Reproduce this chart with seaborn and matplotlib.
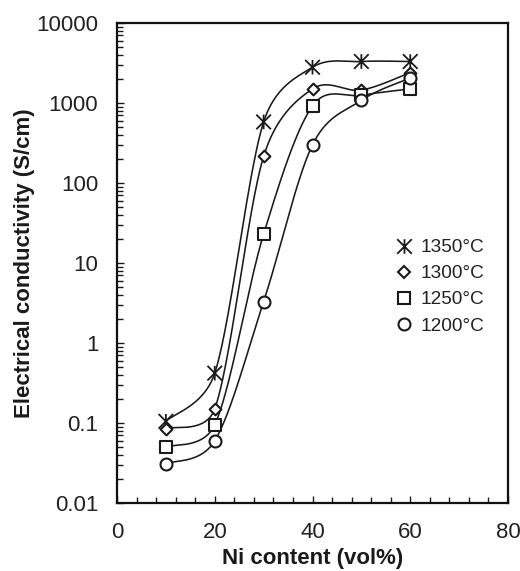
import numpy as np
import pandas as pd
import matplotlib
matplotlib.use("Agg")
import matplotlib.pyplot as plt
import seaborn as sns
from matplotlib.lines import Line2D
from matplotlib.path import Path
from matplotlib.ticker import FixedLocator, FixedFormatter, MultipleLocator, LogLocator, NullFormatter

# ---- data ----
ni_content = [10, 20, 30, 40, 50, 60]
sigma_1350 = [0.105, 0.42, 580, 2800, 3300, 3300]
sigma_1300 = [0.085, 0.15, 215, 1500, 1450, 2400]
sigma_1250 = [0.05, 0.095, 23, 920, 1250, 1500]
sigma_1200 = [0.031, 0.06, 3.3, 300, 1080, 2050]
series_labels = ["1350°C", "1300°C", "1250°C", "1200°C"]
y_tick_values = [0.01, 0.1, 1, 10, 100, 1000, 10000]
y_tick_labels = ["0.01", "0.1", "1", "10", "100", "1000", "10000"]
x_tick_values = [0, 20, 40, 60, 80]

series = [sigma_1350, sigma_1300, sigma_1250, sigma_1200]

# Excel-like star marker: vertical bar plus an X
star = Path([(0, -1), (0, 1), (-1, -1), (1, 1), (-1, 1), (1, -1)],
            [Path.MOVETO, Path.LINETO, Path.MOVETO, Path.LINETO, Path.MOVETO, Path.LINETO])
markers = [star, "D", "s", "o"]
msizes = [10.5, 6.0, 8.8, 8.6]
INK = "#1a1a1a"

sns.set_style("white")
plt.rcParams["font.family"] = ["Liberation Sans", "DejaVu Sans"]

fig = plt.figure(figsize=(5.2, 5.71), dpi=100)
ax = fig.add_axes([117 / 520, 1 - 503 / 571, (508 - 117) / 520, (503 - 23) / 571])

XSCALE = 4.89   # px per x unit
YSCALE = 80.0   # px per decade


def smooth_curve(xs, ys, n=50):
    """Excel-like smoothed line (Bezier with limited control arms) in display space."""
    P = np.column_stack([np.asarray(xs, float) * XSCALE, np.log10(ys) * YSCALE])
    out = []
    m = len(P)
    for i in range(m - 1):
        p0 = P[max(i - 1, 0)]
        p1 = P[i]
        p2 = P[i + 1]
        p3 = P[min(i + 2, m - 1)]
        d12 = np.linalg.norm(p2 - p1)
        d02 = np.linalg.norm(p2 - p0)
        d13 = np.linalg.norm(p3 - p1)
        f1 = 1 / 6 if d02 / 6 < d12 / 2 else d12 / (2 * d02)
        f2 = 1 / 6 if d13 / 6 < d12 / 2 else d12 / (2 * d13)
        c1 = p1 + (p2 - p0) * f1
        c2 = p2 - (p3 - p1) * f2
        t = np.linspace(0, 1, n)[:, None]
        seg = ((1 - t) ** 3) * p1 + 3 * ((1 - t) ** 2) * t * c1 + 3 * (1 - t) * t ** 2 * c2 + t ** 3 * p2
        out.append(seg if i == 0 else seg[1:])
    C = np.vstack(out)
    return C[:, 0] / XSCALE, 10 ** (C[:, 1] / YSCALE)


for vals in series:
    cx, cy = smooth_curve(ni_content, vals)
    df_line = pd.DataFrame({"x": cx, "y": cy})
    sns.lineplot(data=df_line, x="x", y="y", sort=False, estimator=None,
                 color=INK, linewidth=1.15, ax=ax, legend=False)

for vals, mk, ms in zip(series, markers, msizes):
    df_pts = pd.DataFrame({"x": ni_content, "y": vals})
    if mk is star:
        sns.scatterplot(data=df_pts, x="x", y="y", marker=mk, s=ms ** 2,
                        facecolor="none", edgecolor=INK, linewidth=1.3,
                        ax=ax, legend=False, zorder=5)
    else:
        sns.scatterplot(data=df_pts, x="x", y="y", marker=mk, s=ms ** 2,
                        facecolor="white", edgecolor=INK, linewidth=1.5,
                        ax=ax, legend=False, zorder=5)

ax.set_yscale("log")
ax.set_xlim(0, 80)
ax.set_ylim(0.01, 10000)

ax.xaxis.set_major_locator(FixedLocator(x_tick_values))
ax.xaxis.set_minor_locator(MultipleLocator(4))
ax.yaxis.set_major_locator(FixedLocator(y_tick_values))
ax.yaxis.set_major_formatter(FixedFormatter(y_tick_labels))
ax.yaxis.set_minor_locator(LogLocator(base=10, subs=np.arange(2, 10)))
ax.yaxis.set_minor_formatter(NullFormatter())

ax.tick_params(axis="both", which="both", direction="in", colors=INK,
               labelcolor="#222222", labelsize=16, top=False, right=False,
               bottom=True, left=True)
ax.tick_params(axis="both", which="major", length=5, width=1.0)
ax.tick_params(axis="both", which="minor", length=4, width=1.0)
ax.tick_params(axis="y", which="major", pad=13.5)
ax.tick_params(axis="x", which="major", pad=14)

for sp in ax.spines.values():
    sp.set_color("#111111")
    sp.set_linewidth(1.6)

ax.set_xlabel("Ni content (vol%)", fontsize=16, fontweight="bold", color=INK, labelpad=3)
ax.set_ylabel("Electrical conductivity (S/cm)", fontsize=16, fontweight="bold", color=INK, labelpad=1)

handles = []
for mk, ms in zip(markers, msizes):
    if mk is star:
        h = Line2D([], [], linestyle="none", marker=mk, markersize=ms,
                   markerfacecolor="none", markeredgecolor=INK, markeredgewidth=1.3)
    else:
        h = Line2D([], [], linestyle="none", marker=mk, markersize=ms,
                   markerfacecolor="white", markeredgecolor=INK, markeredgewidth=1.5)
    handles.append(h)

leg = ax.legend(handles, series_labels, loc="upper left",
                bbox_to_anchor=(394 / 520, 1 - 239 / 571), bbox_transform=fig.transFigure,
                frameon=False, fontsize=13.7, handlelength=1.0, handletextpad=0.4,
                labelspacing=0.46, borderpad=0.0, borderaxespad=0.0)
for t in leg.get_texts():
    t.set_color("#222222")

fig.savefig("out.png", dpi=100)
